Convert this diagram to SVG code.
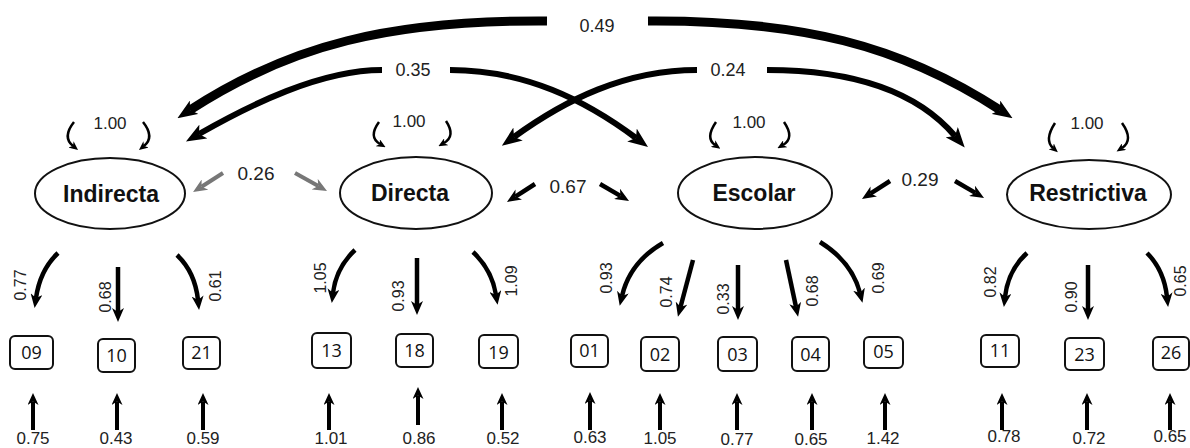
<svg xmlns="http://www.w3.org/2000/svg" width="1190" height="448" viewBox="0 0 1190 448">
<style>
.lat{fill:#fff;stroke:#111;stroke-width:2}
.lat-t{font-family:"Liberation Sans",Arial,sans-serif;font-weight:bold;font-size:23px;fill:#111;text-anchor:middle}
.box{fill:#fff;stroke:#111;stroke-width:2}
.box-t{font-family:"Open Sans","DejaVu Sans",sans-serif;font-size:18px;fill:#111;text-anchor:middle}
.c{fill:none;stroke:#000;stroke-linecap:butt}
.big{stroke-width:6;marker-end:url(#mBig)}
.huge{stroke-width:9;marker-end:url(#mBig)}
.med{stroke-width:4.5;marker-end:url(#mMed)}
.gray{fill:none;stroke:#777;stroke-width:4;marker-end:url(#mMedG)}
.loop{stroke-width:2.5;marker-end:url(#mSmall)}
.err{stroke-width:4;marker-end:url(#mErr)}
.l{font-family:"Liberation Sans",Arial,sans-serif;fill:#222;text-anchor:middle}
.l18{font-size:18px}
.l17{font-size:17px}
.l19{font-size:19px}
.l16{font-size:16px}
</style>
<defs>
<marker id="mBig" viewBox="0 0 20 16" markerWidth="20" markerHeight="16" refX="5" refY="8" orient="auto" markerUnits="userSpaceOnUse"><path d="M0,0 L20,8 L0,16 L5,8 Z" fill="#000"/></marker>
<marker id="mMed" viewBox="0 0 14 12" markerWidth="14" markerHeight="12" refX="4" refY="6" orient="auto" markerUnits="userSpaceOnUse"><path d="M0,0 L14,6 L0,12 L4,6 Z" fill="#000"/></marker>
<marker id="mMedG" viewBox="0 0 14 12" markerWidth="14" markerHeight="12" refX="4" refY="6" orient="auto" markerUnits="userSpaceOnUse"><path d="M0,0 L14,6 L0,12 L4,6 Z" fill="#777"/></marker>
<marker id="mSmall" viewBox="0 0 9 8" markerWidth="9" markerHeight="8" refX="2.5" refY="4" orient="auto" markerUnits="userSpaceOnUse"><path d="M0,0 L9,4 L0,8 L2.5,4 Z" fill="#000"/></marker>
<marker id="mErr" viewBox="0 0 12 11" markerWidth="12" markerHeight="11" refX="3.5" refY="5.5" orient="auto" markerUnits="userSpaceOnUse"><path d="M0,0 L12,5.5 L0,11 L3.5,5.5 Z" fill="#000"/></marker>
</defs>

<g id="connectors">
  <!-- covariances between factors -->
  <path class="c huge" d="M547,21 C390,20 290,45 190,110"/>
  <path class="c huge" d="M648,21 C800,20 900,45 1000,110"/>
  <path class="c big" d="M382,70 C320,70 250,105 199,134"/>
  <path class="c big" d="M450,70 C525,70 585,100 636,138"/>
  <path class="c big" d="M697,70 C625,70 565,100 514,137"/>
  <path class="c big" d="M767,70 C860,70 920,95 955,136"/>
  <path class="gray" d="M223,173 L201.5,186.7"/>
  <path class="gray" d="M295,173 L318.3,186.1"/>
  <path class="c med" d="M535,184 L515.4,196.6"/>
  <path class="c med" d="M600,184 L620.4,195.9"/>
  <path class="c med" d="M890,181 L870.4,193.6"/>
  <path class="c med" d="M955,181 L975.4,192.9"/>
  <!-- variances -->
  <path class="c loop" d="M74,122 Q62,137 73,146"/>
  <path class="c loop" d="M143,122 Q155,137 144,146"/>
  <path class="c loop" d="M379,122 Q368,137 380,144"/>
  <path class="c loop" d="M446,121 Q456,136 444,143"/>
  <path class="c loop" d="M716,122 Q705,138 715,145"/>
  <path class="c loop" d="M784,122 Q795,138 783,145"/>
  <path class="c loop" d="M1055,123 Q1044,140 1053,148"/>
  <path class="c loop" d="M1122,123 Q1134,140 1122,148"/>
  <!-- loadings -->
  <path class="c med" d="M58,253 Q40,270 36,298"/>
  <path class="c med" d="M118,267 L118,312"/>
  <path class="c med" d="M177,255 Q195,272 198,300"/>
  <path class="c med" d="M355,250 Q336,268 333,293"/>
  <path class="c med" d="M417,258 L417,305"/>
  <path class="c med" d="M473,252 Q492,270 496,295"/>
  <path class="c med" d="M663,243 Q630,262 622,296"/>
  <path class="c med" d="M693,260 L680.5,307"/>
  <path class="c med" d="M738,265 L738,310"/>
  <path class="c med" d="M786,260 L796,307"/>
  <path class="c med" d="M820,242 Q852,262 860,293"/>
  <path class="c med" d="M1027,253 Q1008,270 1005,297"/>
  <path class="c med" d="M1088,265 L1088,310"/>
  <path class="c med" d="M1147,253 Q1164,270 1167,297"/>
  <!-- errors -->
  <path class="c err" d="M33,430 L33,401.5"/>
  <path class="c err" d="M117,430 L117,401.5"/>
  <path class="c err" d="M203,430 L203,401.5"/>
  <path class="c err" d="M329,430 L329,401.5"/>
  <path class="c err" d="M418,425 L418,395.5"/>
  <path class="c err" d="M502,430 L502,401.5"/>
  <path class="c err" d="M590,430 L590,400.5"/>
  <path class="c err" d="M660,430 L660,401.5"/>
  <path class="c err" d="M737,430 L737,401.5"/>
  <path class="c err" d="M812,430 L812,401.5"/>
  <path class="c err" d="M885,430 L885,401.5"/>
  <path class="c err" d="M1002,430 L1002,401.5"/>
  <path class="c err" d="M1087,430 L1087,401.5"/>
  <path class="c err" d="M1170,430 L1170,401.5"/>

  <g id="labels">
    <text class="l l18" x="597" y="32">0.49</text>
    <text class="l l18" x="413" y="76">0.35</text>
    <text class="l l18" x="728" y="76">0.24</text>
    <text class="l l19" x="256" y="180">0.26</text>
    <text class="l l19" x="568" y="193">0.67</text>
    <text class="l l19" x="920" y="186">0.29</text>
    <text class="l l17" x="110" y="129">1.00</text>
    <text class="l l17" x="409" y="127">1.00</text>
    <text class="l l17" x="749" y="128">1.00</text>
    <text class="l l17" x="1087" y="129">1.00</text>
    <text class="l l16" transform="translate(26.4,285) rotate(-90)">0.77</text>
    <text class="l l16" transform="translate(111.4,297) rotate(-90)">0.68</text>
    <text class="l l16" transform="translate(221.4,286) rotate(-90)">0.61</text>
    <text class="l l16" transform="translate(326.4,278) rotate(-90)">1.05</text>
    <text class="l l16" transform="translate(404.4,296) rotate(-90)">0.93</text>
    <text class="l l16" transform="translate(517.4,281) rotate(-90)">1.09</text>
    <text class="l l16" transform="translate(612.4,278) rotate(-90)">0.93</text>
    <text class="l l16" transform="translate(672.4,292) rotate(-90)">0.74</text>
    <text class="l l16" transform="translate(729.4,299) rotate(-90)">0.33</text>
    <text class="l l16" transform="translate(818.4,291) rotate(-90)">0.68</text>
    <text class="l l16" transform="translate(884.4,278) rotate(-90)">0.69</text>
    <text class="l l16" transform="translate(996.4,282) rotate(-90)">0.82</text>
    <text class="l l16" transform="translate(1077.4,297) rotate(-90)">0.90</text>
    <text class="l l16" transform="translate(1186,281) rotate(-90)">0.65</text>
    <text class="l l17" x="33" y="444">0.75</text>
    <text class="l l17" x="116" y="444">0.43</text>
    <text class="l l17" x="203" y="444">0.59</text>
    <text class="l l17" x="331" y="444">1.01</text>
    <text class="l l17" x="419" y="444">0.86</text>
    <text class="l l17" x="503" y="444">0.52</text>
    <text class="l l17" x="590" y="443">0.63</text>
    <text class="l l17" x="660" y="444">1.05</text>
    <text class="l l17" x="737" y="445">0.77</text>
    <text class="l l17" x="811" y="445">0.65</text>
    <text class="l l17" x="883" y="444">1.42</text>
    <text class="l l17" x="1004" y="442">0.78</text>
    <text class="l l17" x="1089" y="444">0.72</text>
    <text class="l l17" x="1170" y="442">0.65</text>
  </g>
</g>

<g id="Indirecta"><ellipse class="lat" cx="110" cy="193.5" rx="75" ry="35.5"/><text class="lat-t" x="111" y="202">Indirecta</text></g>
<g id="Directa"><ellipse class="lat" cx="416" cy="193" rx="76" ry="36"/><text class="lat-t" x="410" y="201">Directa</text></g>
<g id="Escolar"><ellipse class="lat" cx="755" cy="193" rx="77" ry="36"/><text class="lat-t" x="754" y="201">Escolar</text></g>
<g id="Restrictiva"><ellipse class="lat" cx="1089" cy="194.5" rx="82" ry="34.5"/><text class="lat-t" x="1088" y="201">Restrictiva</text></g>

<g id="i09"><rect class="box" x="10" y="336" width="43" height="33" rx="5"/><text class="box-t" x="31.5" y="359">09</text></g>
<g id="i10"><rect class="box" x="98" y="339" width="37" height="33" rx="5"/><text class="box-t" x="116.5" y="362">10</text></g>
<g id="i21"><rect class="box" x="183" y="337" width="37" height="32" rx="5"/><text class="box-t" x="201.5" y="359">21</text></g>
<g id="i13"><rect class="box" x="312" y="333" width="39" height="35" rx="5"/><text class="box-t" x="331.5" y="357">13</text></g>
<g id="i18"><rect class="box" x="396" y="334" width="37" height="33" rx="5"/><text class="box-t" x="414.5" y="357">18</text></g>
<g id="i19"><rect class="box" x="479" y="335" width="39" height="33" rx="5"/><text class="box-t" x="498.5" y="359">19</text></g>
<g id="i01"><rect class="box" x="571" y="335" width="37" height="32" rx="5"/><text class="box-t" x="589.5" y="357">01</text></g>
<g id="i02"><rect class="box" x="641" y="337" width="38" height="34" rx="5"/><text class="box-t" x="660" y="361">02</text></g>
<g id="i03"><rect class="box" x="718" y="337" width="39" height="34" rx="5"/><text class="box-t" x="737.5" y="361">03</text></g>
<g id="i04"><rect class="box" x="792" y="337" width="37" height="34" rx="5"/><text class="box-t" x="810.5" y="361">04</text></g>
<g id="i05"><rect class="box" x="864" y="337" width="39" height="31" rx="5"/><text class="box-t" x="883.5" y="358">05</text></g>
<g id="i11"><rect class="box" x="981" y="335" width="38" height="32" rx="5"/><text class="box-t" x="1000" y="357">11</text></g>
<g id="i23"><rect class="box" x="1065" y="338" width="39" height="32" rx="5"/><text class="box-t" x="1084.5" y="361">23</text></g>
<g id="i26"><rect class="box" x="1153" y="337" width="36" height="33" rx="5"/><text class="box-t" x="1171" y="359">26</text></g>
</svg>
